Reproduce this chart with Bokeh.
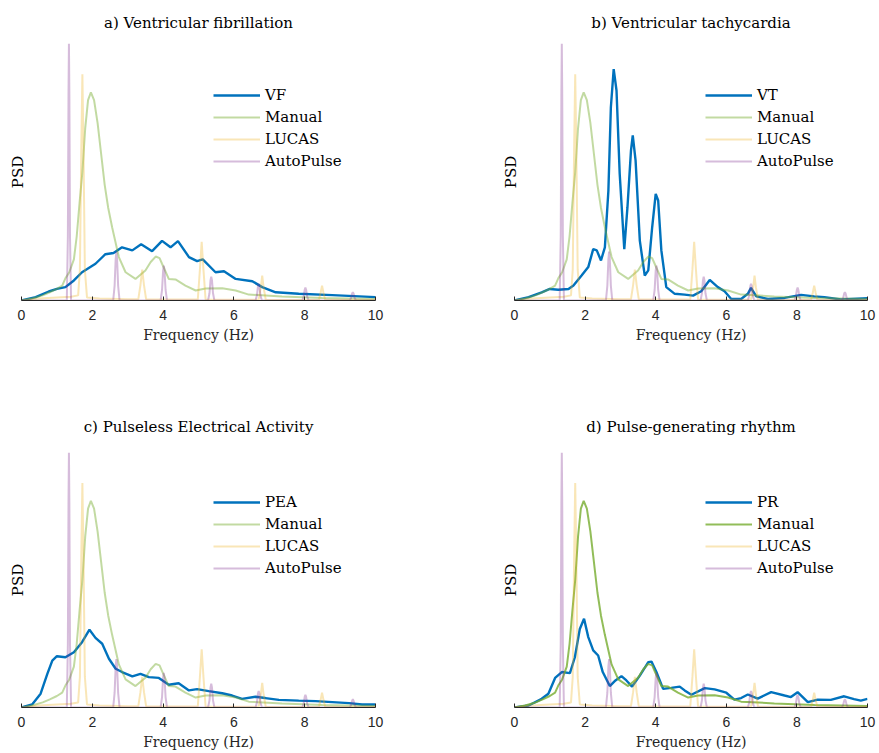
from bokeh.plotting import figure
from bokeh.models import Range1d, FixedTicker
from bokeh.layouts import column, row
from bokeh.embed import file_html
from bokeh.resources import INLINE

freq_ticks = [0, 2, 4, 6, 8, 10]
series_names = ["VF", "VT", "PEA", "PR"]
titles = ["a) Ventricular fibrillation", "b) Ventricular tachycardia",
          "c) Pulseless Electrical Activity", "d) Pulse-generating rhythm"]

# Manual compressions spectrum (shared)
manual_x = [0, 0.3, 0.6, 0.8, 1.0, 1.15, 1.24, 1.35, 1.48, 1.56, 1.64, 1.72, 1.8, 1.88, 1.96,
            2.05, 2.15, 2.25, 2.35, 2.45, 2.56, 2.75, 2.94, 3.22, 3.5, 3.65, 3.79, 3.9, 3.97,
            4.16, 4.35, 4.63, 4.92, 5.2, 5.67, 6.05, 6.42, 7.36, 8.5, 10]
manual_y = [0, 0.008, 0.02, 0.032, 0.045, 0.058, 0.086, 0.11, 0.16, 0.25, 0.38, 0.5, 0.67, 0.78, 0.81,
            0.78, 0.69, 0.57, 0.45, 0.36, 0.285, 0.169, 0.11, 0.084, 0.117, 0.15, 0.171, 0.165, 0.143,
            0.084, 0.082, 0.058, 0.039, 0.047, 0.048, 0.039, 0.023, 0.016, 0.01, 0.006]

# LUCAS spectrum (shared)
lucas_x = [0, 0.5, 1.0, 1.4, 1.6, 1.65, 1.69, 1.72, 1.75, 1.79, 1.85, 2.2, 3.0,
           3.3, 3.36, 3.41, 3.46, 3.52, 4.0,
           4.98, 5.04, 5.09, 5.14, 5.2, 6.0,
           6.7, 6.76, 6.80, 6.84, 6.9,
           8.4, 8.45, 8.49, 8.53, 8.58, 10]
lucas_y = [0, 0.008, 0.012, 0.015, 0.02, 0.12, 0.6, 0.88, 0.6, 0.12, 0.012, 0.008, 0.005,
           0.005, 0.06, 0.12, 0.06, 0.005, 0.004,
           0.004, 0.12, 0.228, 0.12, 0.004, 0.003,
           0.003, 0.05, 0.097, 0.05, 0.003,
           0.002, 0.03, 0.058, 0.03, 0.002, 0.002]

# AutoPulse spectrum (shared)
auto_x = [0, 1.28, 1.31, 1.328, 1.34, 1.352, 1.37, 1.40,
          2.59, 2.63, 2.66, 2.68, 2.70, 2.73, 2.77,
          3.93, 3.97, 4.00, 4.02, 4.04, 4.07, 4.11,
          5.27, 5.31, 5.34, 5.36, 5.38, 5.41, 5.45,
          6.61, 6.65, 6.68, 6.70, 6.72, 6.75, 6.79,
          7.93, 7.97, 8.00, 8.02, 8.04, 8.07, 8.11,
          9.27, 9.31, 9.34, 9.36, 9.38, 9.41, 9.45, 10]
auto_y = [0, 0, 0.25, 0.8, 1.0, 0.8, 0.25, 0,
          0, 0.057, 0.16, 0.19, 0.16, 0.057, 0,
          0, 0.041, 0.116, 0.136, 0.116, 0.041, 0,
          0, 0.028, 0.079, 0.093, 0.079, 0.028, 0,
          0, 0.02, 0.055, 0.065, 0.055, 0.02, 0,
          0, 0.015, 0.042, 0.05, 0.042, 0.015, 0,
          0, 0.01, 0.027, 0.032, 0.027, 0.01, 0, 0]

# Rhythm spectra
vf_x = [0, 0.4, 0.77, 1.0, 1.24, 1.48, 1.71, 2.09, 2.37, 2.6, 2.84, 3.13, 3.38, 3.69, 3.97,
        4.21, 4.42, 4.73, 4.96, 5.12, 5.48, 5.72, 6.05, 6.52, 6.8, 7.18, 7.83, 8.78, 10]
vf_y = [0, 0.013, 0.035, 0.045, 0.052, 0.078, 0.11, 0.143, 0.18, 0.185, 0.207, 0.195, 0.219, 0.192, 0.232,
        0.207, 0.231, 0.169, 0.153, 0.16, 0.11, 0.114, 0.084, 0.075, 0.052, 0.032, 0.026, 0.021, 0.013]

vt_x = [0, 0.4, 0.77, 1.0, 1.24, 1.53, 1.67, 1.9, 2.09, 2.23, 2.33, 2.45, 2.56, 2.66, 2.73, 2.81,
        2.89, 2.98, 3.11, 3.2, 3.3, 3.35, 3.43, 3.55, 3.69, 3.79, 3.9, 4.0, 4.07, 4.16, 4.3,
        4.54, 4.82, 5.06, 5.29, 5.53, 5.76, 5.95, 6.14, 6.42, 6.61, 6.7, 6.85, 7.18, 7.65,
        8.12, 8.49, 8.78, 9.25, 10]
vt_y = [0, 0.013, 0.032, 0.045, 0.042, 0.045, 0.058, 0.097, 0.13, 0.2, 0.195, 0.156, 0.207, 0.428, 0.752, 0.9,
        0.817, 0.493, 0.2, 0.363, 0.584, 0.642, 0.545, 0.233, 0.097, 0.117, 0.285, 0.415, 0.389, 0.195, 0.052,
        0.026, 0.023, 0.019, 0.036, 0.08, 0.052, 0.036, 0.006, 0.006, 0.026, 0.049, 0.016, 0.006, 0.01,
        0.022, 0.016, 0.013, 0.004, 0.009]

pea_x = [0, 0.3, 0.54, 0.73, 0.87, 1.0, 1.24, 1.48, 1.71, 1.92, 2.09, 2.28, 2.47, 2.66, 2.84,
         3.13, 3.36, 3.6, 3.88, 4.16, 4.44, 4.73, 4.96, 5.29, 5.67, 5.95, 6.23, 6.61, 6.89,
         7.27, 7.83, 8.31, 8.78, 9.25, 9.62, 10]
pea_y = [0, 0.012, 0.054, 0.132, 0.184, 0.201, 0.197, 0.217, 0.256, 0.305, 0.273, 0.25, 0.191, 0.152, 0.139,
         0.122, 0.132, 0.119, 0.116, 0.089, 0.095, 0.067, 0.072, 0.064, 0.056, 0.047, 0.034, 0.042, 0.037,
         0.03, 0.027, 0.025, 0.021, 0.017, 0.012, 0.012]

pr_x = [0, 0.4, 0.77, 0.96, 1.15, 1.34, 1.57, 1.71, 1.85, 1.97, 2.09, 2.23, 2.37, 2.5, 2.7, 2.86,
        3.03, 3.17, 3.33, 3.55, 3.79, 3.88, 4.02, 4.21, 4.44, 4.68, 4.82, 5.01, 5.39, 5.67, 6.0,
        6.23, 6.42, 6.61, 6.89, 7.27, 7.65, 7.83, 8.02, 8.31, 8.59, 8.96, 9.34, 9.62, 9.81, 10]
pr_y = [0, 0.008, 0.034, 0.054, 0.116, 0.139, 0.135, 0.197, 0.308, 0.348, 0.276, 0.224, 0.204, 0.139, 0.084, 0.106,
        0.123, 0.106, 0.082, 0.125, 0.178, 0.18, 0.139, 0.073, 0.077, 0.082, 0.067, 0.05, 0.076, 0.071, 0.058,
        0.031, 0.037, 0.051, 0.035, 0.06, 0.047, 0.041, 0.06, 0.021, 0.031, 0.03, 0.044, 0.033, 0.027, 0.034]

rhythm_x = [vf_x, vt_x, pea_x, pr_x]
rhythm_y = [vf_y, vt_y, pea_y, pr_y]

SERIF = "DejaVu Serif"
SANS = "Liberation Sans"


def make_panel(i, width, height, left, right, top, bottom, manual_alpha, title_standoff):
    p = figure(width=width, height=height, output_backend="svg", toolbar_location=None,
               x_range=Range1d(0, 10), y_range=Range1d(0, 1.0),
               min_border_left=left, min_border_right=right,
               min_border_top=top, min_border_bottom=bottom)
    p.title.text = titles[i]
    p.title.align = "center"
    p.title.text_font = SERIF
    p.title.text_font_size = "15px"
    p.title.text_font_style = "normal"
    p.title.text_color = "black"
    p.title.standoff = title_standoff

    p.line(rhythm_x[i], rhythm_y[i], line_color="#0072BD", line_width=2.4,
           legend_label=series_names[i])
    p.line(manual_x, manual_y, line_color="#77AC30", line_alpha=manual_alpha, line_width=2,
           legend_label="Manual")
    p.line(lucas_x, lucas_y, line_color="#EDB120", line_alpha=0.32, line_width=2,
           legend_label="LUCAS")
    p.line(auto_x, auto_y, line_color="#7E2F8E", line_alpha=0.32, line_width=2,
           legend_label="AutoPulse")

    p.xgrid.visible = False
    p.ygrid.visible = False
    p.outline_line_color = None
    p.background_fill_color = "white"
    p.border_fill_color = "white"

    xa = p.xaxis[0]
    xa.ticker = FixedTicker(ticks=freq_ticks)
    xa.axis_line_color = "#262626"
    xa.axis_line_width = 1
    xa.major_tick_in = 4
    xa.major_tick_out = 0
    xa.major_tick_line_color = "#262626"
    xa.minor_tick_line_color = None
    xa.major_label_text_font = SANS
    xa.major_label_text_font_size = "14px"
    xa.major_label_text_color = "#262626"
    xa.major_label_standoff = 9
    xa.axis_label = "Frequency (Hz)"
    xa.axis_label_text_font = SERIF
    xa.axis_label_text_font_size = "14px"
    xa.axis_label_text_font_style = "normal"
    xa.axis_label_text_color = "#262626"
    xa.axis_label_standoff = 4

    ya = p.yaxis[0]
    ya.ticker = FixedTicker(ticks=[])
    ya.axis_line_color = None
    ya.major_tick_line_color = None
    ya.minor_tick_line_color = None
    ya.major_label_standoff = 0
    ya.axis_label = "PSD"
    ya.axis_label_text_font = SERIF
    ya.axis_label_text_font_size = "15px"
    ya.axis_label_text_font_style = "normal"
    ya.axis_label_text_color = "black"
    ya.axis_label_standoff = -5

    lg = p.legend[0]
    lg.border_line_color = None
    lg.background_fill_alpha = 0
    lg.padding = 0
    lg.margin = 0
    lg.spacing = 2
    lg.glyph_width = 47
    lg.glyph_height = 20
    lg.label_height = 20
    lg.label_standoff = 5
    lg.label_text_font = SERIF
    lg.label_text_font_size = "15px"
    lg.label_text_color = "black"
    lg.location = (192, 129) if i % 2 == 0 else (191, 129)
    return p


pa = make_panel(0, 440, 346, 21, 65, 43, 46, 0.45, 23)
pb = make_panel(1, 439, 346, 74, 12, 43, 46, 0.45, 23)
pc = make_panel(2, 440, 407, 21, 65, 106, 46, 0.45, 33)
pd = make_panel(3, 439, 407, 74, 12, 106, 46, 0.8, 33)

layout = column(row(pa, pb), row(pc, pd))
open("out.html", "w").write(file_html(layout, INLINE))
